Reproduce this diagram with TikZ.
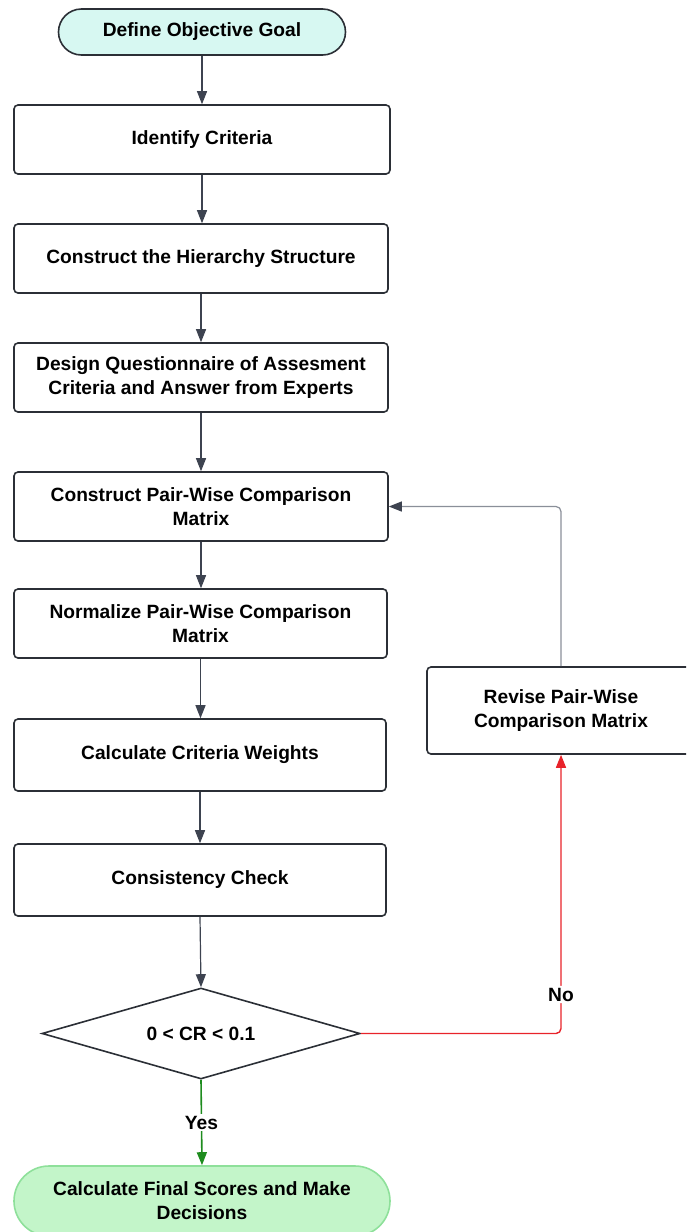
\documentclass[tikz,border=0pt]{standalone}
\usepackage{fontspec}
\setmainfont{Liberation Sans}
\usetikzlibrary{shapes.geometric,shapes.misc,arrows.meta}
\definecolor{edge}{HTML}{2B2F36}
\definecolor{arr}{HTML}{3D4350}
\definecolor{fb}{HTML}{8A8F99}
\definecolor{startfill}{HTML}{D7F8F2}
\definecolor{endfill}{HTML}{C3F5C9}
\definecolor{endedge}{HTML}{8EE09A}
\definecolor{nored}{HTML}{E8232A}
\definecolor{yesgreen}{HTML}{1E8C1E}
\tikzset{
  x=1pt, y=-1pt,
  txt/.style={font=\fontsize{19.2}{24}\selectfont\bfseries, text=black, align=center},
  stepbox/.style={txt, draw=edge, line width=1.6pt, rounded corners=4pt, fill=white, inner sep=0pt},
  term/.style={txt, draw=edge, line width=1.6pt, rounded rectangle, inner sep=0pt},
  decision/.style={txt, draw=edge, line width=1.6pt, diamond, aspect=3.5, inner sep=0pt},
  tip/.style={-{Triangle[length=13pt,width=10pt]}},
  conn/.style={draw=arr, line width=1.2pt, tip},
  lbl/.style={txt, fill=white, inner sep=2pt},
}
\begin{document}
\begin{tikzpicture}
\useasboundingbox (0,0) rectangle (686,1232);
\clip (0,0) rectangle (686,1232);
\node[term, fill=startfill, minimum width=287pt, minimum height=46pt] (goal) at (202,32) {Define Objective Goal};
\node[stepbox, minimum width=376pt, minimum height=69pt] (crit) at (202,139.5) {Identify Criteria};
\node[stepbox, minimum width=374pt, minimum height=69pt] (hier) at (201,258.5) {Construct the Hierarchy Structure};
\node[stepbox, minimum width=374pt, minimum height=69pt] (quest) at (201,377.5) {Design Questionnaire of Assesment\\Criteria and Answer from Experts};
\node[stepbox, minimum width=374pt, minimum height=69pt] (pair) at (201,506.5) {Construct Pair-Wise Comparison\\Matrix};
\node[stepbox, minimum width=373pt, minimum height=69pt] (norm) at (200.5,623.5) {Normalize Pair-Wise Comparison\\Matrix};
\node[stepbox, minimum width=372pt, minimum height=72pt] (weights) at (200,755) {Calculate Criteria Weights};
\node[stepbox, minimum width=372pt, minimum height=72pt] (cons) at (200,880) {Consistency Check};
\node[decision, minimum width=318pt, minimum height=91pt] (cr) at (201,1033.5) {0 < CR < 0.1};
\node[term, fill=endfill, draw=endedge, minimum width=376pt, minimum height=70pt] (final) at (202,1201) {Calculate Final Scores and Make\\Decisions};
\node[stepbox, minimum width=268pt, minimum height=87pt] (revise) at (561,710.5) {Revise Pair-Wise\\Comparison Matrix};

\draw[conn] (goal.south) -- (crit.north -| goal.south);
\draw[conn] (crit.south) -- (hier.north -| crit.south);
\draw[conn] (hier.south) -- (quest.north -| hier.south);
\draw[conn] (quest.south) -- (pair.north -| quest.south);
\draw[conn] (pair.south) -- (norm.north -| pair.south);
\draw[conn] (norm.south) -- (weights.north -| norm.south);
\draw[conn] (weights.south) -- (cons.north -| weights.south);
\draw[conn] (cons.south) -- (cr.north);
\draw[draw=fb, line width=1.2pt, rounded corners=5pt, -{Triangle[length=13pt,width=10pt,color=arr,fill=arr]}] (revise.north) -- (revise.north |- pair.east) -- (pair.east);
\draw[nored, line width=1.4pt, rounded corners=5pt, tip] (cr.east) -- (cr.east -| revise.south) -- (revise.south) node[lbl, pos=0.14] {No};
\draw[yesgreen, line width=1.6pt, tip] (cr.south) -- (final.north) node[lbl, midway] {Yes};
\end{tikzpicture}
\end{document}
